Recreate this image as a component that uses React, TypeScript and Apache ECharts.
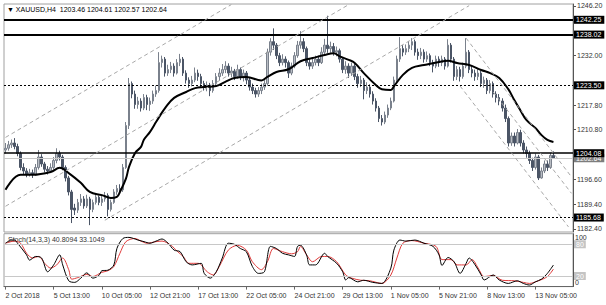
import React, { useEffect, useRef } from "react";
import * as echarts from "echarts";

const symbolName = "XAUUSD,H4";
const barCount = 189;
const xTickLabels = [
  "2 Oct 2018", "5 Oct 13:00", "10 Oct 05:00", "12 Oct 21:00", "17 Oct 13:00", "22 Oct 05:00",
  "24 Oct 21:00", "29 Oct 13:00", "1 Nov 05:00", "5 Nov 21:00", "8 Nov 13:00", "13 Nov 05:00",
];
const labelEvery = 16;

// [open, close, low, high]
const candles: number[][] = [
  [1205.0, 1205.5, 1204.0, 1207.0], [1205.5, 1206.5, 1204.8, 1207.6], [1206.5, 1207.0, 1205.6, 1208.0], [1207.0, 1206.0, 1205.2, 1208.4],
  [1206.0, 1204.0, 1203.2, 1206.8], [1204.0, 1200.0, 1199.2, 1204.6], [1200.0, 1199.0, 1198.0, 1201.2], [1199.0, 1198.0, 1197.2, 1199.8],
  [1198.0, 1198.5, 1197.4, 1199.6], [1198.5, 1198.0, 1197.0, 1199.4], [1198.0, 1200.0, 1197.6, 1201.0], [1200.0, 1203.0, 1199.4, 1205.0],
  [1203.0, 1201.0, 1200.2, 1203.8], [1201.0, 1199.5, 1198.6, 1201.6], [1199.5, 1199.0, 1198.0, 1200.4], [1199.0, 1200.0, 1198.4, 1201.2],
  [1200.0, 1202.0, 1199.4, 1203.0], [1202.0, 1204.0, 1201.2, 1205.5], [1204.0, 1203.0, 1202.0, 1204.8], [1203.0, 1200.0, 1199.2, 1203.6],
  [1200.0, 1197.0, 1196.0, 1200.6], [1197.0, 1193.0, 1192.0, 1197.6], [1193.0, 1188.0, 1184.1, 1193.6], [1188.4, 1187.8, 1186.4, 1189.6],
  [1187.8, 1190.0, 1187.0, 1191.0], [1190.0, 1191.0, 1189.0, 1192.4], [1191.0, 1189.0, 1188.2, 1191.8], [1189.0, 1191.0, 1188.4, 1192.2],
  [1191.0, 1188.0, 1183.5, 1191.6], [1188.0, 1190.0, 1187.2, 1190.8], [1190.0, 1191.5, 1189.4, 1192.6], [1191.5, 1190.0, 1189.2, 1192.0],
  [1190.0, 1191.0, 1189.0, 1192.0], [1191.0, 1192.0, 1190.2, 1193.0], [1192.0, 1188.0, 1186.0, 1192.6], [1188.0, 1190.0, 1187.4, 1190.8],
  [1190.0, 1193.0, 1189.6, 1193.8], [1193.0, 1194.0, 1192.2, 1195.0], [1194.0, 1193.6, 1192.8, 1195.2], [1193.6, 1200.0, 1193.0, 1201.0],
  [1200.0, 1212.0, 1199.6, 1213.0], [1212.0, 1224.0, 1211.0, 1225.6], [1224.0, 1221.0, 1219.8, 1224.6], [1221.0, 1218.0, 1216.8, 1222.0],
  [1218.0, 1219.0, 1216.8, 1220.2], [1219.0, 1217.0, 1216.0, 1219.8], [1217.0, 1220.0, 1216.4, 1221.0], [1220.0, 1218.0, 1216.4, 1220.8],
  [1218.0, 1219.0, 1216.2, 1220.0], [1219.0, 1221.0, 1218.2, 1222.0], [1221.0, 1222.0, 1220.2, 1223.4], [1222.0, 1230.0, 1221.4, 1233.0],
  [1230.0, 1231.0, 1228.6, 1232.0], [1231.0, 1227.0, 1226.0, 1231.6], [1227.0, 1228.0, 1226.2, 1229.4], [1228.0, 1229.0, 1227.0, 1230.2],
  [1229.0, 1227.0, 1226.0, 1229.8], [1227.0, 1230.0, 1226.6, 1231.0], [1230.0, 1231.0, 1229.0, 1232.5], [1231.0, 1227.0, 1226.2, 1231.6],
  [1227.0, 1225.0, 1224.0, 1227.8], [1225.0, 1224.0, 1222.8, 1225.8], [1224.0, 1225.0, 1223.2, 1226.2], [1225.0, 1227.0, 1224.4, 1228.6],
  [1227.0, 1226.0, 1224.8, 1228.0], [1226.0, 1224.0, 1223.0, 1226.8], [1224.0, 1223.0, 1222.0, 1224.8], [1223.0, 1223.6, 1221.8, 1224.6],
  [1223.6, 1222.0, 1220.4, 1224.2], [1222.0, 1224.0, 1221.4, 1225.0], [1224.0, 1226.0, 1223.2, 1227.0], [1226.0, 1227.0, 1225.0, 1228.4],
  [1227.0, 1228.0, 1226.2, 1229.6], [1228.0, 1229.0, 1227.0, 1230.4], [1229.0, 1227.0, 1226.0, 1229.8], [1227.0, 1227.6, 1225.8, 1228.8],
  [1227.6, 1226.0, 1225.0, 1228.2], [1226.0, 1228.0, 1225.4, 1229.4], [1228.0, 1226.0, 1225.0, 1228.6], [1226.0, 1227.0, 1224.6, 1228.0],
  [1227.0, 1225.0, 1223.8, 1227.6], [1225.0, 1223.0, 1222.0, 1225.6], [1223.0, 1222.0, 1221.0, 1224.0], [1222.0, 1221.0, 1220.0, 1222.8],
  [1221.0, 1222.0, 1220.2, 1223.0], [1222.0, 1223.0, 1221.0, 1224.0], [1223.0, 1224.0, 1222.2, 1225.0], [1224.0, 1233.0, 1223.4, 1234.0],
  [1233.0, 1236.0, 1232.0, 1237.0], [1236.0, 1235.0, 1233.6, 1239.8], [1235.0, 1232.0, 1231.0, 1235.6], [1232.0, 1230.0, 1229.0, 1232.8],
  [1230.0, 1231.0, 1229.2, 1232.4], [1231.0, 1230.0, 1228.6, 1231.8], [1230.0, 1227.0, 1225.6, 1230.6], [1227.0, 1229.0, 1226.4, 1230.0],
  [1229.0, 1232.0, 1228.4, 1233.0], [1232.0, 1235.0, 1231.4, 1236.2], [1235.0, 1236.0, 1234.0, 1239.0], [1236.0, 1234.0, 1233.0, 1237.0],
  [1234.0, 1230.0, 1229.0, 1234.6], [1230.0, 1229.0, 1228.0, 1231.0], [1229.0, 1230.0, 1228.2, 1231.2], [1230.0, 1231.0, 1229.2, 1232.0],
  [1231.0, 1230.0, 1229.0, 1232.0], [1230.0, 1233.0, 1229.6, 1234.4], [1233.0, 1235.0, 1232.4, 1236.8], [1235.0, 1234.0, 1232.8, 1243.4],
  [1234.0, 1234.6, 1232.8, 1236.0], [1234.6, 1233.0, 1232.0, 1235.6], [1233.0, 1233.4, 1231.8, 1234.6], [1233.4, 1231.0, 1230.0, 1234.0],
  [1231.0, 1228.0, 1227.0, 1231.6], [1228.0, 1229.0, 1226.8, 1230.4], [1229.0, 1227.0, 1225.6, 1229.8], [1227.0, 1229.0, 1226.2, 1230.0],
  [1229.0, 1226.0, 1225.0, 1229.6], [1226.0, 1224.0, 1222.8, 1226.8], [1224.0, 1225.0, 1223.0, 1226.2], [1225.0, 1222.0, 1219.5, 1225.6],
  [1222.0, 1223.0, 1221.0, 1224.4], [1223.0, 1221.0, 1220.0, 1223.8], [1221.0, 1219.0, 1218.0, 1221.8], [1219.0, 1217.0, 1216.0, 1219.8],
  [1217.0, 1214.0, 1213.0, 1217.6], [1214.0, 1213.0, 1212.0, 1215.0], [1213.0, 1215.0, 1212.4, 1216.0], [1215.0, 1217.0, 1214.2, 1218.0],
  [1217.0, 1219.0, 1216.4, 1220.0], [1219.0, 1225.0, 1218.6, 1226.0], [1225.0, 1231.0, 1224.4, 1232.0], [1231.0, 1234.0, 1230.2, 1237.3],
  [1234.0, 1233.0, 1231.8, 1235.0], [1233.0, 1234.0, 1232.2, 1235.2], [1234.0, 1235.0, 1233.0, 1236.2], [1235.0, 1236.0, 1233.6, 1237.0],
  [1236.0, 1233.0, 1232.0, 1236.6], [1233.0, 1232.0, 1230.8, 1234.0], [1232.0, 1233.0, 1231.0, 1234.2], [1233.0, 1231.0, 1230.0, 1233.8],
  [1231.0, 1232.0, 1230.2, 1233.2], [1232.0, 1230.0, 1229.0, 1232.6], [1230.0, 1229.0, 1227.2, 1230.8], [1229.0, 1231.0, 1228.4, 1232.0],
  [1231.0, 1230.0, 1228.8, 1231.8], [1230.0, 1231.0, 1229.0, 1232.0], [1231.0, 1229.0, 1228.0, 1231.6], [1229.0, 1235.0, 1228.6, 1236.7],
  [1235.0, 1231.0, 1230.0, 1235.6], [1231.0, 1226.0, 1224.8, 1231.6], [1226.0, 1228.0, 1225.0, 1229.0], [1228.0, 1226.0, 1224.6, 1228.8],
  [1226.0, 1229.0, 1225.4, 1230.0], [1229.0, 1233.0, 1228.4, 1237.0], [1233.0, 1228.0, 1227.0, 1233.6], [1228.0, 1227.0, 1225.8, 1229.0],
  [1227.0, 1226.0, 1224.8, 1228.0], [1226.0, 1227.0, 1225.0, 1228.2], [1227.0, 1224.0, 1223.0, 1227.6], [1224.0, 1225.0, 1222.8, 1226.0],
  [1225.0, 1222.0, 1221.0, 1225.6], [1222.0, 1224.0, 1221.2, 1225.0], [1224.0, 1221.0, 1220.0, 1224.6], [1221.0, 1220.0, 1218.6, 1221.8],
  [1220.0, 1219.0, 1217.8, 1221.0], [1219.0, 1217.0, 1216.0, 1219.8], [1217.0, 1214.0, 1213.0, 1218.0], [1214.0, 1207.0, 1206.0, 1214.6],
  [1207.0, 1209.0, 1206.2, 1210.0], [1209.0, 1207.0, 1206.0, 1210.0], [1207.0, 1210.0, 1206.6, 1211.0], [1210.0, 1207.0, 1206.0, 1210.8],
  [1207.0, 1205.0, 1204.0, 1207.8], [1205.0, 1204.0, 1202.8, 1206.0], [1204.0, 1202.0, 1201.0, 1204.8], [1202.0, 1200.0, 1199.0, 1202.8],
  [1200.0, 1203.0, 1199.4, 1204.0], [1203.0, 1197.0, 1196.4, 1203.6], [1197.0, 1199.0, 1196.8, 1200.0], [1199.0, 1201.0, 1198.4, 1202.0],
  [1201.0, 1200.0, 1199.0, 1202.0], [1200.0, 1203.46, 1199.6, 1204.2], [1203.46, 1202.64, 1202.57, 1204.61],
];

// moving average: [bar index, price]
const maPoints: number[][] = [
  [0, 1193.6], [5, 1197.9], [9, 1197.9], [15, 1198.7], [18, 1199.9], [21, 1198.4], [25, 1195.6], [28, 1193.0],
  [32, 1192.1], [35, 1191.3], [37, 1191.6], [38, 1193.0], [40, 1196.8], [41, 1200.1], [43, 1204.1], [45, 1205.9],
  [46, 1208.0], [48, 1210.2], [50, 1213.0], [51, 1214.4], [53, 1217.0], [56, 1219.9], [60, 1221.6], [63, 1222.7],
  [66, 1223.0], [70, 1223.3], [73, 1224.5], [76, 1225.6], [80, 1225.9], [85, 1224.9], [87, 1225.9], [90, 1227.3],
  [94, 1228.1], [98, 1230.4], [102, 1231.3], [106, 1232.2], [109, 1232.7], [111, 1231.8], [114, 1230.8], [116, 1229.9],
  [119, 1227.0], [123, 1223.6], [125, 1222.4], [128, 1222.2], [129, 1223.2], [132, 1226.5], [135, 1228.5], [139, 1229.3],
  [144, 1230.2], [147, 1230.5], [150, 1229.9], [154, 1229.3], [158, 1227.9], [161, 1227.0], [164, 1225.6], [167, 1222.4],
  [169, 1219.3], [171, 1216.4], [173, 1213.6], [176, 1211.3], [178, 1209.3], [180, 1207.9], [182, 1207.3],
];

const stochParams = "Stoch(14,3,3)";
const stochMainValue = "40.8094";
const stochSignalValue = "33.1049";
const stochK: number[][] = [
  [0, 82], [2, 88], [3, 88], [4, 82], [7, 60], [8, 50], [10, 57], [12, 54], [14, 28], [16, 41], [18, 60], [19, 41],
  [21, 11], [23, 8], [25, 16], [27, 26], [29, 16], [31, 21], [32, 30], [34, 31], [36, 41], [37, 72], [39, 91], [41, 93],
  [44, 88], [46, 85], [48, 82], [50, 86], [52, 90], [54, 82], [56, 69], [58, 66], [60, 47], [62, 41], [65, 44], [66, 25],
  [68, 16], [70, 28], [72, 54], [74, 82], [76, 80], [78, 72], [80, 66], [82, 38], [84, 25], [86, 28], [88, 76], [90, 72],
  [92, 63], [94, 60], [96, 57], [97, 76], [98, 78], [100, 60], [101, 41], [103, 41], [106, 63], [107, 57], [110, 44], [112, 28],
  [113, 12.5], [114, 17], [117, 9], [119, 12], [122, 8], [125, 6], [128, 35], [129, 69], [131, 88], [133, 86], [136, 88], [139, 82],
  [142, 76], [144, 60], [145, 40], [147, 55], [149, 47], [151, 25], [153, 44], [154, 54], [156, 41], [158, 22], [159, 12.5], [162, 22],
  [164, 12.5], [167, 6], [170, 11], [172, 6], [174, 3], [176, 9], [178, 14], [180, 25], [182, 40.8],
];
const stochD: number[][] = [
  [0, 82], [3, 86], [5, 82], [7, 63], [9, 54], [11, 57], [13, 44], [15, 35], [17, 41], [19, 54], [21, 32], [22, 14],
  [24, 17], [27, 23], [29, 19], [32, 27], [34, 30], [36, 38], [38, 63], [40, 85], [43, 91], [45, 86], [47, 82], [50, 85],
  [52, 86], [55, 78], [57, 67], [59, 57], [61, 44], [64, 44], [67, 28], [69, 22], [71, 38], [74, 69], [77, 78], [80, 69],
  [82, 47], [85, 32], [87, 47], [89, 72], [92, 66], [95, 62], [97, 66], [98, 76], [100, 60], [102, 47], [105, 57], [107, 57],
  [110, 47], [113, 22], [115, 16], [118, 12], [121, 11], [125, 6], [128, 22], [130, 54], [132, 82], [135, 87], [139, 82], [143, 76],
  [145, 51], [148, 51], [150, 41], [153, 41], [155, 51], [157, 35], [159, 19], [162, 21], [165, 12], [169, 11], [172, 8], [174, 6],
  [177, 11], [180, 19], [182, 33.1],
];

const priceTicks = [1246.2, 1232.0, 1217.8, 1210.8, 1196.6, 1189.4, 1182.4];
const priceMin = 1181.54;
const priceMax = 1246.77;
const resistanceSolid = [1242.25, 1238.02];
const dashedLevels = [1223.5, 1185.68];
const supportLevel = 1204.08;
const bidPrice = 1202.64;
const stochLevels = [80, 20];
const stochTicks = [100, 0];

// trend channel lines: [[bar, price], [bar, price]]
const trendLines: number[][][] = [
  [[0, 1208.6], [75, 1246.6]],
  [[0, 1188.9], [114, 1246.6]],
  [[33, 1184.9], [154, 1246.3]],
  [[153, 1237.0], [188, 1197.3]],
  [[151, 1223.3], [187, 1183.0]],
  [[162, 1221.6], [188, 1192.6]],
];

const FONT = "Liberation Sans, Arial, sans-serif";

export default function App() {
  const ref = useRef<HTMLDivElement>(null);
  useEffect(() => {
    if (!ref.current) return;
    const chart = echarts.init(ref.current, undefined, { renderer: "svg" });
    const cats = Array.from({ length: barCount }, (_, i) => String(i));
    const last = candles[candles.length - 1];
    const boxLabel = (bg: string) => ({
      show: true,
      position: "end",
      distance: 1,
      formatter: (p: any) => Number(p.value).toFixed(2),
      backgroundColor: bg,
      color: "#fff",
      fontSize: 7,
      fontFamily: FONT,
      lineHeight: 8,
      padding: [0, 3, 0, 2],
    });
    const levelData: any[] = [
      ...resistanceSolid.map((v) => ({ yAxis: v, lineStyle: { color: "#000", width: 2, type: "solid" }, label: boxLabel("#000") })),
      ...dashedLevels.map((v) => ({ yAxis: v, lineStyle: { color: "#000", width: 1, type: [2, 2] }, label: boxLabel("#000") })),
      { yAxis: bidPrice, lineStyle: { color: "#c8c8c8", width: 1, type: "solid" }, label: boxLabel("#7d7d7d") },
      { yAxis: supportLevel, lineStyle: { color: "#000", width: 1.5, type: "solid" }, label: boxLabel("#000") },
      ...trendLines.map((ln) => [
        { coord: ln[0], lineStyle: { color: "#a8a8a8", width: 1, type: [4, 3] }, label: { show: false } },
        { coord: ln[1] },
      ]),
    ];
    const option: any = {
      animation: false,
      textStyle: { fontFamily: FONT },
      grid: [
        { left: 4, top: 4, width: 569, height: 228, show: true, borderColor: "#a0a0a0", borderWidth: 1 },
        { left: 4, top: 233.7, width: 569, height: 52.9, show: true, borderColor: "#a0a0a0", borderWidth: 1 },
      ],
      xAxis: [
        { type: "category", gridIndex: 0, data: cats, show: false, boundaryGap: true },
        {
          type: "category",
          gridIndex: 1,
          data: cats,
          boundaryGap: true,
          axisLine: { lineStyle: { color: "#666" } },
          axisTick: { show: true, alignWithLabel: true, length: 3, interval: (i: number) => i % labelEvery === 0, lineStyle: { color: "#666" } },
          axisLabel: {
            interval: (i: number) => i % labelEvery === 0,
            formatter: (_v: string, i: number) => xTickLabels[i / labelEvery] ?? "",
            align: "left",
            fontSize: 7,
            fontFamily: FONT,
            color: "#333",
            margin: 5,
          },
          splitLine: { show: false },
        },
      ],
      yAxis: [
        {
          type: "value",
          gridIndex: 0,
          position: "right",
          min: priceMin,
          max: priceMax,
          splitLine: { show: false },
          axisLine: { show: true, lineStyle: { color: "#555" } },
          axisTick: { show: true, customValues: priceTicks, length: 3, lineStyle: { color: "#555" } },
          axisLabel: { customValues: priceTicks, formatter: (v: number) => v.toFixed(2), fontSize: 7, fontFamily: FONT, color: "#333", margin: 4 },
        },
        {
          type: "value",
          gridIndex: 1,
          position: "right",
          min: 0,
          max: 100,
          splitLine: { show: false },
          axisLine: { show: true, lineStyle: { color: "#555" } },
          axisTick: { show: false },
          axisLabel: {
            customValues: stochTicks,
            formatter: (v: number) => (v >= 100 ? `{hi|${v}}` : `{lo|${v}}`),
            margin: 2,
            rich: {
              hi: { padding: [8, 0, 0, 0], fontSize: 7, fontFamily: FONT, color: "#333" },
              lo: { padding: [0, 0, 8, 0], fontSize: 7, fontFamily: FONT, color: "#333" },
            },
          },
        },
      ],
      series: [
        {
          type: "candlestick",
          xAxisIndex: 0,
          yAxisIndex: 0,
          data: candles,
          barWidth: 2,
          clip: false,
          itemStyle: { color: "#b9bdc4", color0: "#4b5566", borderColor: "#7a818c", borderColor0: "#4b5566", borderWidth: 1 },
          markLine: { symbol: ["none", "none"], silent: true, animation: false, data: levelData },
        },
        {
          type: "line",
          xAxisIndex: 0,
          yAxisIndex: 0,
          data: maPoints,
          smooth: 0.4,
          showSymbol: false,
          lineStyle: { color: "#000", width: 2 },
          z: 3,
        },
        {
          type: "line",
          xAxisIndex: 1,
          yAxisIndex: 1,
          data: stochD,
          smooth: 0.3,
          showSymbol: false,
          lineStyle: { color: "#e03a3a", width: 1 },
          clip: false,
          markLine: {
            symbol: ["none", "none"],
            silent: true,
            data: stochLevels.map((v) => ({
              yAxis: v,
              lineStyle: { color: "#c8c8c8", width: 1, type: "solid" },
              label: { show: true, position: "end", distance: 1, formatter: String(v), backgroundColor: "#c4c4c4", color: "#fff", fontSize: 7, fontFamily: FONT, lineHeight: 8, padding: [0, 2, 0, 2] },
            })),
          },
        },
        {
          type: "line",
          xAxisIndex: 1,
          yAxisIndex: 1,
          data: stochK,
          smooth: 0.3,
          showSymbol: false,
          lineStyle: { color: "#000", width: 1 },
        },
      ],
      graphic: [
        {
          type: "text",
          left: 7,
          top: 6,
          style: {
            text: `▼ ${symbolName}  ${last[0].toFixed(2)} ${last[3].toFixed(2)} ${last[2].toFixed(2)} ${last[1].toFixed(2)}`,
            fontSize: 7,
            fontFamily: FONT,
            fill: "#000",
          },
        },
        {
          type: "text",
          left: 8,
          top: 236,
          style: { text: `${stochParams} ${stochMainValue} ${stochSignalValue}`, fontSize: 7, fontFamily: FONT, fill: "#333" },
        },
      ],
    };
    chart.setOption(option);
    return () => chart.dispose();
  }, []);
  return <div ref={ref} style={{ position: "fixed", left: 0, top: 0, width: 606, height: 305, background: "#fff" }} />;
}
